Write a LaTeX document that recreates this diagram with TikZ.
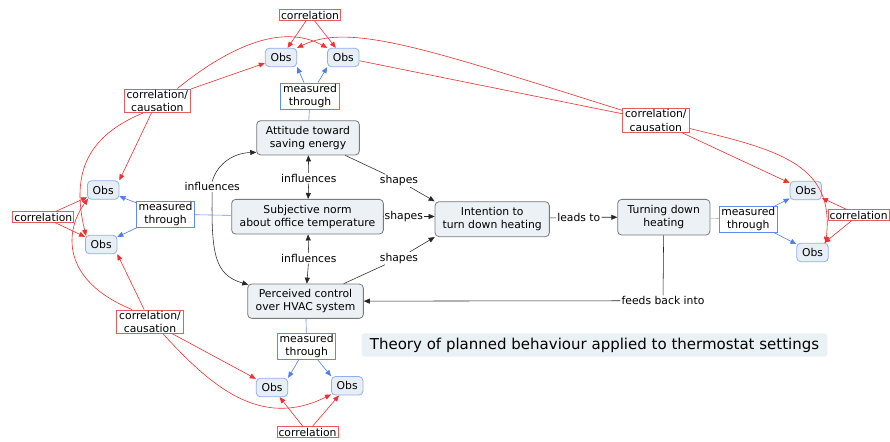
\documentclass[tikz,border=0pt]{standalone}
\usepackage{fontspec}
\setmainfont{DejaVu Sans}
\usetikzlibrary{arrows.meta,calc}
\definecolor{boxfill}{HTML}{EBF1F4}
\definecolor{boxdraw}{HTML}{7A7A7A}
\definecolor{obsfill}{HTML}{E7EEF6}
\definecolor{obsdraw}{HTML}{8FB0EE}
\definecolor{mtdraw}{HTML}{5C8CEE}
\definecolor{redc}{HTML}{EE3030}
\definecolor{redbox}{HTML}{E85A5E}
\definecolor{bluec}{HTML}{4C7EF0}
\definecolor{bluelight}{HTML}{6F93EE}
\definecolor{graylight}{HTML}{B8BEC4}
\definecolor{titlefill}{HTML}{EAF1F4}
\tikzset{
 mainbox/.style={draw=boxdraw, fill=boxfill, rounded corners=4pt, line width=0.8pt, align=center, inner sep=1pt},
 obsbox/.style={draw=obsdraw, fill=obsfill, rounded corners=4pt, line width=0.8pt, minimum width=31.5pt, minimum height=18.5pt, inner sep=1pt},
 mtbox/.style={draw=mtdraw, fill=white, line width=0.7pt, align=center, minimum width=59pt, minimum height=26pt, inner sep=1pt},
 corrbox/.style={draw=redbox, fill=white, line width=0.7pt, inner xsep=1.5pt, inner ysep=1.2pt},
 ccbox/.style={draw=redbox, fill=white, line width=0.7pt, align=center, minimum width=66.7pt, minimum height=23.3pt, inner sep=1pt},
 lab/.style={inner sep=1pt},
 blk/.style={draw=black!85, line width=0.55pt},
 blkarr/.style={blk, -{Triangle[length=6pt,width=5pt]}},
 redarr/.style={draw=redc, line width=0.6pt, -{Triangle[length=6pt,width=5pt]}},
 bluearr/.style={draw=bluec, line width=0.6pt, -{Triangle[length=6pt,width=5pt]}},
 blueln/.style={draw=bluelight, line width=0.6pt},
 grayln/.style={draw=graylight, line width=0.6pt},
}
\begin{document}
\begin{tikzpicture}[x=1pt,y=-1pt,font=\fontsize{10.8}{13.3}\selectfont]
\fill[white] (0,0) rectangle (890,441);
\useasboundingbox (0,0) rectangle (890,441);

% main concepts
\node[mainbox, minimum width=102.7pt, minimum height=34.3pt] (att) at (308,137.8) {Attitude toward\\saving energy};
\node[mainbox, minimum width=151.7pt, minimum height=34.7pt] (subj) at (307.5,216.7) {Subjective norm\\about office temperature};
\node[mainbox, minimum width=115.7pt, minimum height=34.3pt] (perc) at (305.5,301.2) {Perceived control\\over HVAC system};
\node[mainbox, minimum width=114.3pt, minimum height=35pt] (int) at (492.2,219.2) {Intention to\\turn down heating};
\node[mainbox, minimum width=92.3pt, minimum height=35.7pt] (turn) at (663.8,217.2) {Turning down\\heating};

% title
\node[fill=titlefill, rounded corners=3pt, minimum width=465.7pt, minimum height=23.4pt, inner sep=1pt, font=\fontsize{15}{18}\selectfont] (title) at (594.5,345) {Theory of planned behaviour applied to thermostat settings};

% measured through
\node[mtbox] (mtT) at (310,96) {measured\\through};
\node[mtbox, minimum width=57.6pt, minimum height=25pt] (mtL) at (165.5,214.2) {measured\\through};
\node[mtbox, minimum width=58pt] (mtB) at (306.7,346.3) {measured\\through};
\node[mtbox, minimum width=58pt] (mtR) at (748.3,219.2) {measured\\through};

% Obs
\node[obsbox] (obsTL) at (281,57.5) {Obs};
\node[obsbox] (obsTR) at (343.3,57.5) {Obs};
\node[obsbox] (obsLT) at (103.2,190) {Obs};
\node[obsbox] (obsLB) at (101.2,244.5) {Obs};
\node[obsbox] (obsBL) at (272,387.5) {Obs};
\node[obsbox] (obsBR) at (347.2,385.8) {Obs};
\node[obsbox] (obsRT) at (805.8,190.5) {Obs};
\node[obsbox] (obsRB) at (812.5,252.5) {Obs};

% correlation
\node[corrbox] (corT) at (310,15) {correlation};
\node[corrbox] (corL) at (43.3,217) {correlation};
\node[corrbox] (corB) at (307.5,432.2) {correlation};
\node[corrbox] (corR) at (858.6,215) {correlation};

% correlation/causation
\node[ccbox] (ccTL) at (157.3,100.7) {correlation/\\causation};
\node[ccbox] (ccTR) at (655.8,120.5) {correlation/\\causation};
\node[ccbox] (ccBL) at (150,321.7) {correlation/\\causation};

% linking phrases
\node[lab] (infL) at (212.2,186.7) {influences};
\node[lab] (inf1) at (308.8,178.3) {influences};
\node[lab] (inf2) at (308.8,258.3) {influences};
\node[lab] (shU) at (399,180.7) {shapes};
\node[lab] (shM) at (403.8,216.5) {shapes};
\node[lab] (shL) at (399,258.3) {shapes};
\node[lab] (leads) at (578.8,217.3) {leads to};
\node[lab] (fb) at (663,300.7) {feeds back into};

% black connectors
\draw[blkarr] (inf1) -- (att);
\draw[blkarr] (inf1) -- (subj);
\draw[blkarr] (inf2) -- (subj);
\draw[blkarr] (inf2) -- (perc);
\draw[blkarr] (infL.north) .. controls (218,162) and (235,153) .. ($(att.south west)+(0,-3)$);
\draw[blkarr] (infL.south) .. controls (211,255) and (215,275) .. ($(perc.north west)+(1,1)$);
\draw[blk] (att) -- (shU);
\draw[blkarr] (shU) -- (int.north west);
\draw[blk] (subj) -- (shM);
\draw[blkarr] (shM) -- (shM -| int.west);
\draw[blk] (perc) -- (shL);
\draw[blkarr] (shL) -- (int.south west);
\draw[blk] (int) -- (leads);
\draw[blkarr] (leads) -- (turn);
\draw[blk] (turn) -- (fb);
\draw[blkarr] (fb) -- (perc);

% measured-through connectors
\draw[blueln] (att) -- (mtT);
\draw[blueln] (subj) -- (mtL);
\draw[blueln] (perc) -- (mtB);
\draw[grayln] (turn) -- (mtR);
\draw[bluearr] (mtT) -- (obsTL.south east);
\draw[bluearr] (mtT) -- (obsTR.south west);
\draw[bluearr] (mtL) -- (obsLT);
\draw[bluearr] (mtL) -- (obsLB);
\draw[bluearr] (mtB) -- (obsBL.north east);
\draw[bluearr] (mtB) -- (obsBR.north west);
\draw[bluearr] (mtR) -- (obsRT);
\draw[bluearr] (mtR) -- (obsRB);

% correlation connectors
\draw[redarr] (corT) -- (obsTL);
\draw[redarr] (corT) -- (obsTR);
\draw[redarr] (corL) -- (obsLT);
\draw[redarr] (corL) -- (obsLB);
\draw[redarr] (corB) -- (obsBL);
\draw[redarr] (corB) -- (obsBR);
\draw[redarr] (corR) -- (obsRT);
\draw[redarr] (corR) -- (obsRB);

% correlation/causation connectors
\draw[redarr] (ccTL) -- (obsTL);
\draw[redarr] ($(ccTL.north)+(20,0)$) .. controls (225,50) and (280,22) .. (obsTR.north west);
\draw[redarr] (ccTL) -- (obsLT.north east);
\draw[redarr] ($(ccTL.south)+(-14,0)$) .. controls (90,135) and (70,170) .. ($(obsLB.north west)+(1,1)$);
\draw[redarr] (ccBL) -- (obsLB.south east);
\draw[redarr] ($(ccBL.north)+(-18,0)$) .. controls (60,280) and (65,230) .. ($(obsLT.south west)+(1,-1)$);
\draw[redarr] (ccBL) -- (obsBL);
\draw[redarr] ($(ccBL.south)+(13,0)$) .. controls (210,385) and (260,430) .. ($(obsBR.south west)+(0,-1)$);
\draw[draw=redc, line width=0.6pt] (obsTR) -- (ccTR);
\draw[redarr] ($(ccTR.north west)+(0,2)$) .. controls (430,50) and (350,22) .. (obsTL.north east);
\draw[redarr] (ccTR) -- (obsRT);
\draw[redarr] ($(ccTR.east)+(0,8)$) .. controls (780,150) and (835,165) .. ($(obsRB.north east)+(-3,0)$);
\end{tikzpicture}
\end{document}
